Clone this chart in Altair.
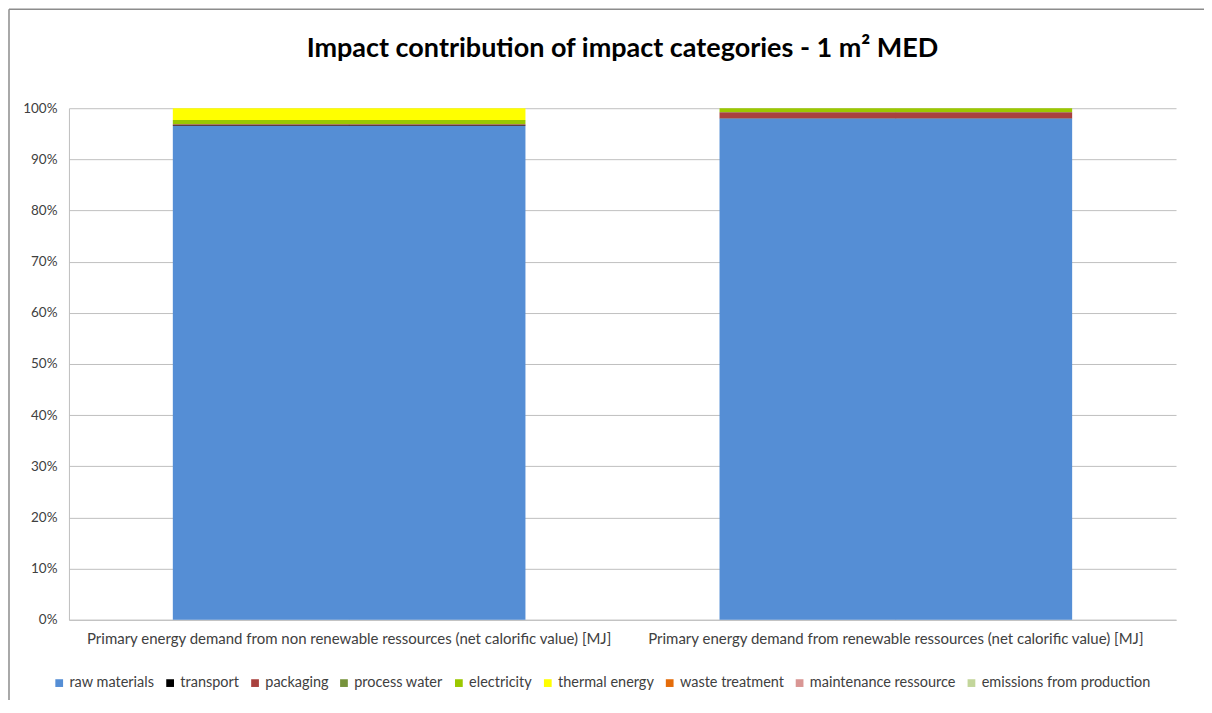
import altair as alt
import pandas as pd

categories = [
    "Primary energy demand from non renewable ressources (net calorific value) [MJ]",
    "Primary energy demand from renewable ressources (net calorific value) [MJ]",
]
components = ["raw materials", "transport", "packaging", "process water", "electricity",
              "thermal energy", "waste treatment", "maintenance ressource", "emissions from production"]
colors = ["#558ed5", "#000000", "#a9413e", "#77933c", "#9bc800", "#ffff00", "#e46c0a", "#d99694", "#c3d69b"]
non_renewable = [96.5, 0.15, 0.2, 0.05, 0.8, 2.3, 0.0, 0.0, 0.0]
renewable = [98.0, 0.02, 1.2, 0.05, 0.7, 0.03, 0.0, 0.0, 0.0]

rows = []
for cat, vals in zip(categories, [non_renewable, renewable]):
    for i, (comp, v) in enumerate(zip(components, vals)):
        rows.append({"category": cat, "component": comp, "value": v / 100.0, "order": i})
df = pd.DataFrame(rows)

FONT = "Lato"

bars = alt.Chart(df).mark_bar().encode(
    x=alt.X("category:N", sort=categories, title=None,
            scale=alt.Scale(paddingInner=0.355, paddingOuter=0.19),
            axis=alt.Axis(labelAngle=0, ticks=False, labelFontSize=15, labelColor="#404040",
                          labelFont=FONT, labelPadding=12, domainColor="#bfbfbf", labelLimit=700)),
    y=alt.Y("value:Q", stack="zero", title=None,
            scale=alt.Scale(domain=[0, 1], nice=False),
            axis=alt.Axis(format=".0%", values=[i / 10 for i in range(11)], ticks=False,
                          labelFontSize=13.5, labelColor="#404040", labelFont=FONT, labelPadding=12,
                          domain=True, domainColor="#bfbfbf", gridColor="#c0c0c0")),
    color=alt.Color("component:N", sort=components,
                    scale=alt.Scale(domain=components, range=colors),
                    legend=alt.Legend(title=None, orient="none", direction="horizontal",
                                      legendX=-17, legendY=568, symbolType="square", symbolSize=60,
                                      labelFontSize=14.5, labelFont=FONT, labelColor="#404040",
                                      labelLimit=400, columnPadding=8, symbolStrokeWidth=0,
                                      labelOffset=3)),
    order=alt.Order("order:Q", sort="ascending"),
)

frame = pd.DataFrame({"b": [1]})
border_left = alt.Chart(frame).mark_rule(stroke="#8c8c8c", strokeWidth=1.5).encode(
    x=alt.value(-60), y=alt.value(-99), y2=alt.value(600)
)
border_top = alt.Chart(frame).mark_rule(stroke="#8c8c8c", strokeWidth=1.5).encode(
    x=alt.value(-60), x2=alt.value(1140), y=alt.value(-99)
)

chart = alt.layer(border_left, border_top, bars).properties(
    width=1108, height=512,
    padding={"left": 61, "top": 100, "right": 28, "bottom": 80},
    autosize=alt.AutoSizeParams(type="none"),
    title=alt.TitleParams("Impact contribution of impact categories - 1 m² MED", fontSize=27,
                          font=FONT, fontWeight="bold", color="#000000", anchor="middle",
                          offset=0, baseline="bottom", dy=82),
).configure_view(stroke=None).configure_axis(grid=True)

chart.save("out.html", embed_options={"renderer": "svg", "actions": False})
